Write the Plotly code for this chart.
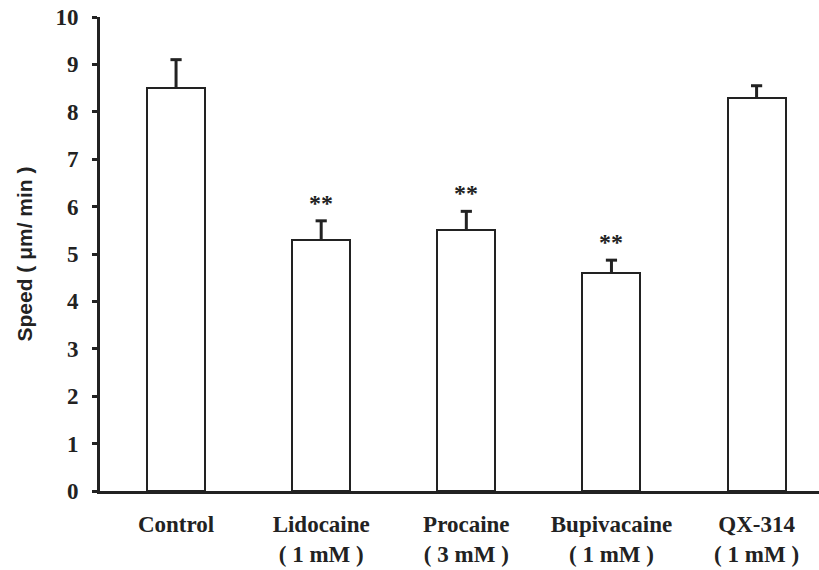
import plotly.graph_objects as go

categories = ["Control", "Lidocaine<br>( 1 mM )", "Procaine<br>( 3 mM )",
              "Bupivacaine<br>( 1 mM )", "QX-314<br>( 1 mM )"]
speed = [8.5, 5.3, 5.5, 4.6, 8.3]
sem = [0.6, 0.4, 0.4, 0.27, 0.25]
significance = ["", "**", "**", "**", ""]
y_ticks = [0, 1, 2, 3, 4, 5, 6, 7, 8, 9, 10]

serif = "Liberation Serif"
ink = "#222222"
xs = list(range(len(categories)))

fig = go.Figure()
fig.add_trace(go.Bar(
    x=xs,
    y=speed,
    width=0.4,
    marker=dict(color="white", line=dict(color=ink, width=2)),
    error_y=dict(type="data", symmetric=False, array=sem,
                 arrayminus=[0] * len(sem), color=ink,
                 thickness=3, width=0),
    showlegend=False,
))
# error-bar caps (top only)
fig.add_trace(go.Scatter(
    x=xs, y=[v + e for v, e in zip(speed, sem)],
    mode="markers",
    marker=dict(symbol="line-ew", size=8, line=dict(color=ink, width=3)),
    showlegend=False, hoverinfo="skip",
))

for i, (v, e, s) in enumerate(zip(speed, sem, significance)):
    if s:
        fig.add_annotation(x=i, y=v + e, text=f"<b>{s}</b>", showarrow=False,
                           yanchor="bottom", yshift=3,
                           font=dict(family=serif, size=24, color=ink))

fig.update_layout(
    width=819, height=570,
    margin=dict(l=100, r=0, t=17, b=78.5),
    plot_bgcolor="white", paper_bgcolor="white",
    bargap=0,
)
fig.update_xaxes(
    range=[-0.524, 4.43],
    tickvals=xs,
    ticktext=[f"<b>{c}</b>" for c in categories],
    tickfont=dict(family=serif, size=23, color=ink),
    showline=True, linecolor=ink, linewidth=3,
    ticks="", showgrid=False, zeroline=False,
    ticklabelstandoff=10, automargin=False,
)
fig.update_yaxes(
    range=[0, 10],
    tickvals=y_ticks,
    ticktext=[f"<b>{t}</b>" for t in y_ticks],
    tickfont=dict(family=serif, size=23, color=ink),
    showline=True, linecolor=ink, linewidth=3,
    ticks="outside", ticklen=5, tickwidth=3, tickcolor=ink,
    showgrid=False, zeroline=False,
    ticklabelstandoff=9, automargin=False,
    title=dict(text="<b>Speed ( μm/ min )</b>",
               font=dict(family="Liberation Sans", size=21, color=ink),
               standoff=18),
)

fig.write_html("out.html",
               config={"displayModeBar": False},
               post_script="document.body.style.margin='0px';")
